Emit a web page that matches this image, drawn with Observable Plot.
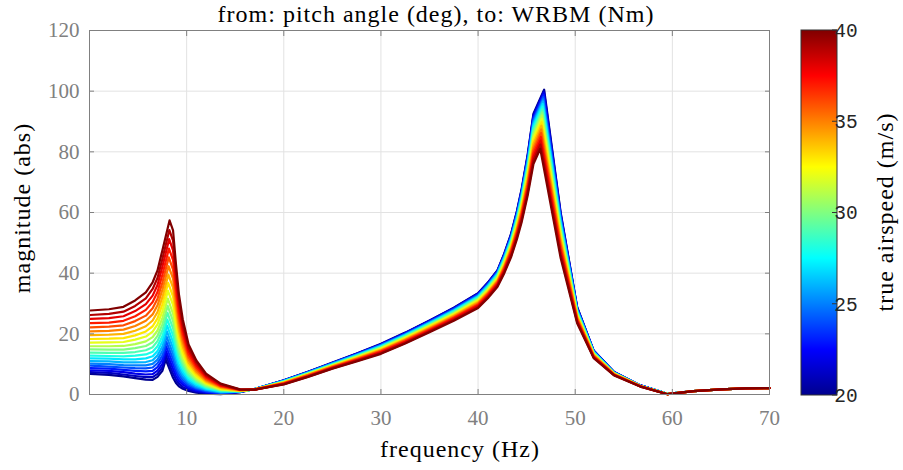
<!DOCTYPE html>
<html>
<head>
<meta charset="utf-8">
<script src="https://cdn.jsdelivr.net/npm/d3@7"></script>
<script src="https://cdn.jsdelivr.net/npm/@observablehq/plot@0.6"></script>
<style>
  html, body { margin: 0; padding: 0; background: #fff; }
  #chart svg text { font-family: 'Liberation Serif', 'Times New Roman', serif; }
</style>
</head>
<body>
<div id="chart"></div>
<script>
// ---- chart data ----
const speeds = [20, 21, 22, 23, 24, 25, 26, 27, 28, 29, 30, 31, 32, 33, 34, 35, 36, 37, 38, 39, 40];

// common frequency grid (Hz); each row of gridMagnitude gives the magnitude of every speed (20..40 m/s)
const gridFreqs = [0.1, 2, 3.5, 4.7, 5.8, 6.5, 7.0, 7.5, 8.6, 8.9, 9.2, 9.6, 10.2, 11, 12, 13.5, 15.5, 17,
                   20, 22.5, 25, 27.5, 30, 32.5, 35, 37.5, 40, 41, 42, 42.7, 43.4, 44, 44.5, 45.1, 45.7,
                   48.5, 50.2, 51.9, 54, 56.7, 59.5, 62.2, 65, 67.5, 70];
const gridMagnitude = [
  [6.8, 7.4, 8.0, 8.7, 9.5, 10.2, 11.0, 11.9, 12.8, 13.8, 14.9, 15.9, 17.1, 18.3, 19.6, 20.8, 22.1, 23.5, 24.9, 26.2, 27.7],
  [6.5, 7.1, 7.8, 8.5, 9.2, 10.0, 10.9, 11.8, 12.7, 13.7, 14.8, 15.9, 17.2, 18.4, 19.7, 21.0, 22.4, 23.7, 25.2, 26.6, 28.1],
  [6.0, 6.6, 7.4, 8.1, 8.9, 9.7, 10.6, 11.6, 12.6, 13.7, 14.8, 16.0, 17.3, 18.6, 20.0, 21.4, 22.8, 24.3, 25.8, 27.3, 28.9],
  [5.4, 6.1, 6.9, 7.8, 8.7, 9.6, 10.6, 11.6, 12.8, 14.0, 15.3, 16.6, 18.1, 19.5, 21.0, 22.6, 24.2, 25.8, 27.5, 29.2, 31.0],
  [4.9, 5.7, 6.6, 7.6, 8.6, 9.6, 10.7, 11.9, 13.2, 14.6, 16.0, 17.5, 19.1, 20.8, 22.5, 24.3, 26.0, 27.9, 29.8, 31.7, 33.7],
  [4.8, 5.7, 6.7, 7.8, 8.9, 10.1, 11.3, 12.6, 14.1, 15.6, 17.2, 18.9, 20.7, 22.5, 24.4, 26.4, 28.4, 30.5, 32.6, 34.8, 37.0],
  [5.8, 6.8, 7.9, 9.0, 10.3, 11.5, 12.9, 14.3, 15.9, 17.6, 19.3, 21.1, 23.1, 25.1, 27.2, 29.4, 31.6, 33.8, 36.1, 38.4, 40.9],
  [7.8, 8.9, 10.1, 11.5, 12.8, 14.3, 15.8, 17.5, 19.2, 21.1, 23.1, 25.2, 27.4, 29.7, 32.0, 34.5, 36.9, 39.5, 42.1, 44.7, 47.5],
  [5.5, 6.9, 8.4, 10.0, 11.7, 13.4, 15.3, 17.3, 19.5, 21.8, 24.2, 26.7, 29.5, 32.3, 35.2, 38.2, 41.2, 44.3, 47.5, 50.7, 54.1],
  [3.8, 4.9, 6.1, 7.4, 8.8, 10.2, 11.7, 13.3, 15.1, 16.9, 18.9, 20.9, 23.2, 25.4, 27.7, 30.1, 32.6, 35.1, 37.7, 40.3, 43.0],
  [2.7, 3.6, 4.5, 5.5, 6.6, 7.7, 8.9, 10.1, 11.5, 12.9, 14.4, 16.0, 17.8, 19.5, 21.3, 23.2, 25.1, 27.0, 29.1, 31.1, 33.2],
  [1.9, 2.5, 3.3, 4.0, 4.8, 5.6, 6.5, 7.5, 8.5, 9.6, 10.7, 11.9, 13.2, 14.5, 15.9, 17.3, 18.7, 20.2, 21.7, 23.2, 24.8],
  [1.2, 1.6, 2.1, 2.6, 3.1, 3.7, 4.3, 4.9, 5.6, 6.3, 7.1, 7.9, 8.8, 9.6, 10.5, 11.5, 12.4, 13.4, 14.4, 15.4, 16.5],
  [0.6, 0.9, 1.2, 1.6, 2.0, 2.3, 2.7, 3.2, 3.7, 4.2, 4.7, 5.2, 5.8, 6.4, 7.1, 7.7, 8.4, 9.1, 9.8, 10.5, 11.2],
  [0.3, 0.5, 0.7, 0.9, 1.1, 1.4, 1.6, 1.9, 2.2, 2.5, 2.8, 3.2, 3.6, 3.9, 4.3, 4.7, 5.1, 5.6, 6.0, 6.4, 6.9],
  [0.1, 0.2, 0.3, 0.4, 0.5, 0.7, 0.8, 1.0, 1.1, 1.3, 1.5, 1.6, 1.8, 2.0, 2.2, 2.5, 2.7, 2.9, 3.1, 3.4, 3.6],
  [0.8, 0.8, 0.9, 0.9, 0.9, 0.9, 1.0, 1.0, 1.1, 1.1, 1.1, 1.2, 1.2, 1.3, 1.3, 1.4, 1.5, 1.5, 1.6, 1.6, 1.7],
  [1.8, 1.8, 1.8, 1.8, 1.8, 1.8, 1.8, 1.8, 1.7, 1.7, 1.7, 1.7, 1.7, 1.7, 1.7, 1.7, 1.7, 1.6, 1.6, 1.6, 1.6],
  [4.7, 4.7, 4.6, 4.6, 4.5, 4.5, 4.4, 4.4, 4.3, 4.2, 4.2, 4.1, 4.0, 3.9, 3.9, 3.8, 3.7, 3.6, 3.5, 3.4, 3.3],
  [7.5, 7.5, 7.4, 7.3, 7.3, 7.2, 7.2, 7.1, 7.0, 6.9, 6.9, 6.8, 6.7, 6.6, 6.5, 6.4, 6.3, 6.1, 6.0, 5.9, 5.8],
  [10.5, 10.4, 10.4, 10.3, 10.3, 10.2, 10.1, 10.0, 9.9, 9.8, 9.7, 9.6, 9.5, 9.4, 9.3, 9.2, 9.0, 8.9, 8.8, 8.6, 8.5],
  [13.5, 13.4, 13.4, 13.3, 13.2, 13.1, 13.0, 12.9, 12.8, 12.6, 12.5, 12.4, 12.2, 12.1, 11.9, 11.8, 11.6, 11.4, 11.3, 11.1, 10.9],
  [16.7, 16.6, 16.5, 16.4, 16.3, 16.2, 16.0, 15.9, 15.8, 15.6, 15.4, 15.3, 15.1, 14.9, 14.7, 14.5, 14.3, 14.1, 13.9, 13.6, 13.4],
  [20.4, 20.3, 20.2, 20.1, 19.9, 19.8, 19.7, 19.5, 19.4, 19.2, 19.0, 18.8, 18.6, 18.4, 18.2, 18.0, 17.8, 17.5, 17.3, 17.0, 16.8],
  [24.4, 24.3, 24.2, 24.0, 23.9, 23.8, 23.6, 23.5, 23.3, 23.1, 22.9, 22.7, 22.5, 22.3, 22.0, 21.8, 21.5, 21.3, 21.0, 20.8, 20.5],
  [28.6, 28.5, 28.4, 28.2, 28.1, 27.9, 27.7, 27.6, 27.4, 27.2, 26.9, 26.7, 26.5, 26.2, 26.0, 25.7, 25.4, 25.2, 24.9, 24.6, 24.3],
  [33.4, 33.3, 33.1, 33.0, 32.8, 32.6, 32.4, 32.2, 32.0, 31.8, 31.5, 31.3, 31.0, 30.7, 30.4, 30.1, 29.8, 29.5, 29.2, 28.8, 28.5],
  [36.9, 36.8, 36.6, 36.4, 36.2, 36.1, 35.9, 35.6, 35.4, 35.2, 34.9, 34.6, 34.3, 34.0, 33.7, 33.4, 33.1, 32.8, 32.4, 32.1, 31.7],
  [41.0, 40.8, 40.7, 40.5, 40.3, 40.1, 39.9, 39.7, 39.4, 39.2, 38.9, 38.6, 38.3, 38.0, 37.6, 37.3, 37.0, 36.6, 36.3, 35.9, 35.5],
  [46.5, 46.3, 46.1, 45.9, 45.7, 45.4, 45.2, 44.9, 44.6, 44.3, 44.0, 43.7, 43.3, 42.9, 42.5, 42.1, 41.7, 41.3, 40.9, 40.5, 40.0],
  [53.0, 52.8, 52.5, 52.3, 52.0, 51.7, 51.4, 51.1, 50.8, 50.4, 50.0, 49.6, 49.2, 48.8, 48.3, 47.8, 47.4, 46.9, 46.4, 45.8, 45.3],
  [60.5, 60.2, 60.0, 59.6, 59.3, 59.0, 58.6, 58.2, 57.8, 57.4, 56.9, 56.4, 55.9, 55.4, 54.8, 54.3, 53.7, 53.1, 52.5, 51.9, 51.2],
  [68.0, 67.7, 67.4, 67.0, 66.6, 66.2, 65.8, 65.3, 64.8, 64.3, 63.8, 63.2, 62.6, 61.9, 61.3, 60.6, 59.9, 59.2, 58.5, 57.8, 57.0],
  [79.0, 78.6, 78.2, 77.8, 77.3, 76.8, 76.3, 75.7, 75.1, 74.5, 73.8, 73.1, 72.3, 71.6, 70.8, 69.9, 69.1, 68.2, 67.3, 66.4, 65.5],
  [92.6, 92.1, 91.6, 91.1, 90.5, 89.9, 89.3, 88.6, 87.8, 87.0, 86.2, 85.4, 84.4, 83.5, 82.5, 81.4, 80.4, 79.4, 78.3, 77.2, 76.0],
  [60.0, 59.6, 59.1, 58.6, 58.1, 57.6, 57.0, 56.4, 55.7, 55.0, 54.2, 53.4, 52.6, 51.7, 50.9, 49.9, 49.0, 48.0, 47.0, 46.1, 45.0],
  [28.8, 28.7, 28.5, 28.3, 28.1, 27.9, 27.7, 27.5, 27.3, 27.0, 26.8, 26.5, 26.2, 25.9, 25.6, 25.2, 24.9, 24.6, 24.2, 23.9, 23.5],
  [14.5, 14.4, 14.4, 14.3, 14.2, 14.1, 14.0, 13.9, 13.8, 13.7, 13.5, 13.4, 13.3, 13.1, 13.0, 12.8, 12.7, 12.5, 12.3, 12.2, 12.0],
  [7.4, 7.4, 7.3, 7.3, 7.3, 7.2, 7.2, 7.1, 7.1, 7.0, 7.0, 6.9, 6.9, 6.8, 6.7, 6.7, 6.6, 6.5, 6.4, 6.4, 6.3],
  [3.0, 3.0, 3.0, 3.0, 2.9, 2.9, 2.9, 2.9, 2.9, 2.9, 2.8, 2.8, 2.8, 2.8, 2.8, 2.7, 2.7, 2.7, 2.7, 2.6, 2.6],
  [0.2, 0.2, 0.2, 0.2, 0.2, 0.2, 0.2, 0.2, 0.2, 0.2, 0.2, 0.1, 0.1, 0.1, 0.1, 0.1, 0.1, 0.1, 0.1, 0.1, 0.1],
  [1.1, 1.1, 1.1, 1.1, 1.1, 1.1, 1.1, 1.1, 1.1, 1.1, 1.1, 1.1, 1.1, 1.1, 1.1, 1.1, 1.1, 1.1, 1.1, 1.1, 1.1],
  [1.7, 1.7, 1.7, 1.7, 1.7, 1.7, 1.7, 1.7, 1.7, 1.7, 1.7, 1.7, 1.7, 1.7, 1.7, 1.7, 1.7, 1.7, 1.7, 1.7, 1.7],
  [2.0, 2.0, 2.0, 2.0, 2.0, 2.0, 2.0, 2.0, 2.0, 2.0, 2.0, 2.0, 2.0, 2.0, 2.0, 2.0, 2.0, 2.0, 2.0, 2.0, 2.0],
  [2.1, 2.1, 2.1, 2.1, 2.1, 2.1, 2.1, 2.1, 2.1, 2.1, 2.1, 2.1, 2.1, 2.1, 2.1, 2.1, 2.1, 2.1, 2.1, 2.1, 2.1]
];

// first resonance peak of each speed
const peak1Freq = [7.85, 7.87, 7.89, 7.91, 7.93, 7.95, 7.97, 7.99, 8.01, 8.03, 8.05, 8.06, 8.08, 8.10, 8.12, 8.14, 8.16, 8.18, 8.20, 8.22, 8.24];
const peak1Mag  = [11.5, 12.8, 14.2, 15.7, 17.3, 19.0, 20.8, 22.7, 24.7, 26.9, 29.2, 31.6, 34.2, 36.8, 39.5, 42.3, 45.2, 48.1, 51.2, 54.2, 57.4];
// second resonance peak of each speed
const peak2Freq = [46.80, 46.78, 46.76, 46.74, 46.72, 46.70, 46.68, 46.66, 46.64, 46.62, 46.60, 46.58, 46.56, 46.54, 46.52, 46.50, 46.48, 46.46, 46.44, 46.42, 46.40];
const peak2Mag  = [100.5, 100.0, 99.4, 98.7, 98.0, 97.3, 96.6, 95.8, 94.9, 94.0, 93.0, 92.0, 90.9, 89.8, 88.6, 87.4, 86.2, 84.9, 83.7, 82.4, 81.0];

const xTicks = [10, 20, 30, 40, 50, 60, 70];
const yTicks = [0, 20, 40, 60, 80, 100, 120];
const colorTicks = [20, 25, 30, 35, 40];

const titleText = "from: pitch angle (deg), to: WRBM (Nm)";
const xLabel = "frequency (Hz)";
const yLabel = "magnitude (abs)";
const colorLabel = "true airspeed (m/s)";

// jet colormap
const jetStops = [0, 0.125, 0.375, 0.625, 0.875, 1];
const jetColors = ["#00008f", "#0000ff", "#00ffff", "#ffff00", "#ff0000", "#800000"];

// ---- build line table ----
const points = [];
speeds.forEach((v, k) => {
  const pts = gridFreqs.map((f, i) => ({f, m: gridMagnitude[i][k], v}));
  pts.push({f: peak1Freq[k], m: peak1Mag[k], v});
  pts.push({f: peak2Freq[k], m: peak2Mag[k], v});
  pts.sort((a, b) => a.f - b.f);
  points.push(...pts);
});

const serif = "'Liberation Serif', 'Times New Roman', serif";
const gray = "#808080";

const chart = Plot.plot({
  width: 903,
  height: 470,
  marginLeft: 89,
  marginRight: 134,
  marginTop: 30,
  marginBottom: 76,
  style: {fontFamily: serif, fontSize: "21px", background: "#fff", overflow: "visible"},
  x: {domain: [0, 70]},
  y: {domain: [0, 120]},
  color: {
    type: "linear",
    domain: jetStops.map(s => 20 + s * 20),
    range: jetColors,
    interpolate: "rgb"
  },
  marks: [
    Plot.gridX(xTicks, {stroke: "#e2e2e2", strokeOpacity: 1}),
    Plot.gridY(yTicks, {stroke: "#e2e2e2", strokeOpacity: 1}),
    Plot.line(points, {x: "f", y: "m", z: "v", stroke: "v", strokeWidth: 2.2}),
    Plot.frame({stroke: gray}),
    Plot.axisX(xTicks, {anchor: "bottom", tickSize: 0, tickPadding: 16, label: null, color: gray, fontFamily: serif, fontSize: 21}),
    Plot.axisX(xTicks, {anchor: "bottom", tickSize: -5, text: null, label: null, stroke: gray}),
    Plot.axisX(xTicks, {anchor: "top", tickSize: -5, text: null, label: null, stroke: gray}),
    Plot.axisY(yTicks, {anchor: "left", tickSize: 0, tickPadding: 10, label: null, color: gray, fontFamily: serif, fontSize: 21}),
    Plot.axisY(yTicks, {anchor: "left", tickSize: -5, text: null, label: null, stroke: gray}),
    Plot.axisY(yTicks, {anchor: "right", tickSize: -5, text: null, label: null, stroke: gray})
  ]
});

document.getElementById("chart").appendChild(chart);

// ---- titles and colorbar ----
const svg = d3.select(chart);
const colorScale = chart.scale("color");

function label(x, y, rot, txt) {
  return svg.append("text")
    .attr("transform", `translate(${x},${y})` + (rot ? ` rotate(${rot})` : ""))
    .attr("text-anchor", "middle")
    .style("font-family", serif).style("font-size", "24px").style("letter-spacing", "1px")
    .attr("fill", "#000")
    .text(txt);
}
label(436, 21.5, 0, titleText);
label(460, 457, 0, xLabel);
label(29.5, 208, -90, yLabel);

// colorbar
const cbX = 801, cbW = 36, cbTop = 30, cbBottom = 395;
const cbY = d3.scaleLinear().domain([20, 40]).range([cbBottom, cbTop]);
const defs = svg.append("defs");
const grad = defs.append("linearGradient")
  .attr("id", "jetGrad").attr("x1", 0).attr("y1", 1).attr("x2", 0).attr("y2", 0);
d3.range(0, 41).forEach(i => {
  const v = 20 + i * 0.5;
  grad.append("stop").attr("offset", (v - 20) / 20).attr("stop-color", colorScale.apply(v));
});
svg.append("rect")
  .attr("x", cbX).attr("y", cbTop).attr("width", cbW).attr("height", cbBottom - cbTop)
  .attr("fill", "url(#jetGrad)").attr("stroke", "#333").attr("stroke-width", 1);

const cbG = svg.append("g");
colorTicks.forEach(t => {
  cbG.append("line")
    .attr("x1", cbX + cbW).attr("x2", cbX + cbW - 5)
    .attr("y1", cbY(t)).attr("y2", cbY(t))
    .attr("stroke", "#333").attr("stroke-width", 1);
  cbG.append("text")
    .attr("x", 846).attr("y", cbY(t)).attr("dy", "0.35em")
    .style("font-family", "'Liberation Mono', 'DejaVu Sans Mono', monospace").style("font-size", "19.5px")
    .attr("fill", "#262626")
    .text(String(t));
});

label(893, 212, -90, colorLabel);
</script>
</body>
</html>
